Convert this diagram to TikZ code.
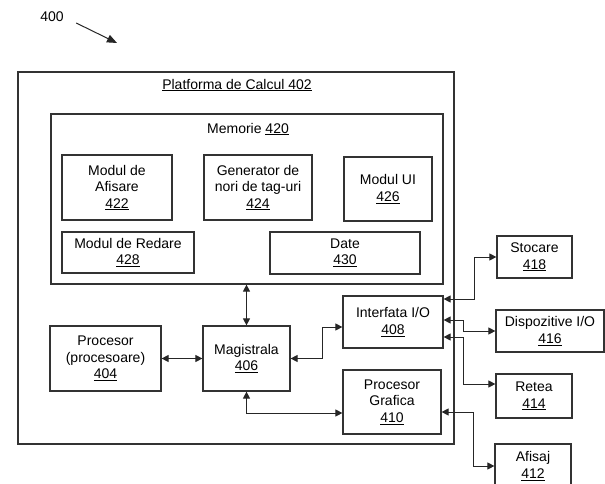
\documentclass[tikz,border=0pt]{standalone}
\usepackage{fontspec}
\setmainfont{Liberation Sans}
\usetikzlibrary{arrows.meta,positioning}

\begin{document}
\begin{tikzpicture}[
   x=1pt,y=-1pt,
   every node/.style={font=\fontsize{14}{16.5}\selectfont},
   frame/.style={draw=black!80,line width=1.2pt,rectangle,inner sep=0pt},
   blk/.style={frame,align=center},
   arr/.style={{Triangle[length=7pt,width=7pt]}-{Triangle[length=7pt,width=7pt]},
               line width=1pt,black!85},
   refarr/.style={-{Triangle[length=10pt,width=8pt]},line width=1pt,black!85}
]
\useasboundingbox (0,0) rectangle (605,484);

% Figure number
\node (fig) at (52,17) {400};
\coordinate (figtip) at (117,43);
\draw[refarr] ([xshift=9pt,yshift=-6pt]fig.east) -- (figtip);

% Platform and memory frames
\node[frame,minimum width=436pt,minimum height=372pt] (plat) at (236,258) {};
\node (platlbl) at (237,85) {\underline{Platforma de Calcul 402}};
\node[frame,minimum width=392pt,minimum height=170pt] (mem) at (247,199) {};
\node (memlbl) at (248,129) {Memorie \underline{420}};

% Memory modules
\node[blk,minimum width=110pt,minimum height=65pt] (afis) at (117,187.5) {Modul de\\Afisare\\\underline{422}};
\node[blk,minimum width=108pt,minimum height=65pt] (gen) at (258,187.5) {Generator de\\nori de tag-uri\\\underline{424}};
\node[blk,minimum width=88pt,minimum height=64pt] (ui) at (388,189) {Modul UI\\\underline{426}};
\node[blk,minimum width=132pt,minimum height=41pt] (red) at (128,252.5) {Modul de Redare\\\underline{428}};
\node[blk,minimum width=150pt,minimum height=42pt] (date) at (345,253) {Date\\\underline{430}};

% Processing layer
\node[blk,minimum width=111pt,minimum height=65pt] (proc) at (105.5,358.5) {Procesor\\(procesoare)\\\underline{404}};
\node[blk,minimum width=87pt,minimum height=65pt] (bus) at (246.5,358.5) {Magistrala\\\underline{406}};
\node[blk,minimum width=100pt,minimum height=52pt] (io) at (393,322) {Interfata I/O\\\underline{408}};
\node[blk,minimum width=98pt,minimum height=64pt] (gpu) at (392,402) {Procesor\\Grafica\\\underline{410}};

% Peripherals
\node[blk,minimum width=75pt,minimum height=42pt] (sto) at (534.5,257) {Stocare\\\underline{418}};
\node[blk,minimum width=108pt,minimum height=42pt] (dev) at (550,331) {Dispozitive I/O\\\underline{416}};
\node[blk,minimum width=76pt,minimum height=44pt] (net) at (534,396) {Retea\\\underline{414}};
\node[blk,minimum width=76pt,minimum height=44pt] (disp) at (533,466) {Afisaj\\\underline{412}};

% Bus links
\draw[arr] (bus.north |- mem.south) -- (bus.north);
\draw[arr] (proc.east) -- (bus.west);
\draw[arr] (bus.east) -- ++(32,0) |- ([yshift=-5pt]io.west);
\draw[arr] (bus.south) |- ([yshift=-11pt]gpu.west);

% I/O links
\draw[arr] ([yshift=23pt]io.east) -- ++(31,0) |- (sto.west);
\draw[arr] ([yshift=2pt]io.east) -- ++(20,0) |- (dev.west);
\draw[arr] ([yshift=-15pt]io.east) -- ++(20,0) |- ([yshift=12pt]net.west);
\draw[arr] ([yshift=-10pt]gpu.east) -- ++(32,0) |- (disp.west);

\end{tikzpicture}
\end{document}
